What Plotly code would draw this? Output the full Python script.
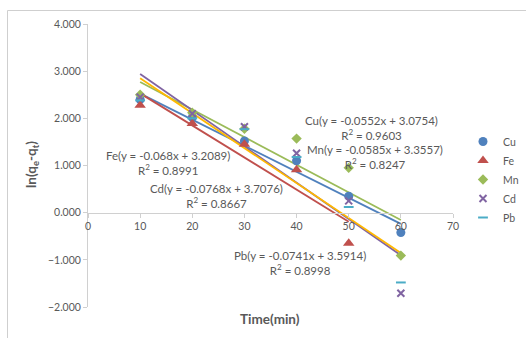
import plotly.graph_objects as go

# ---- data ----
time = [10, 20, 30, 40, 50, 60]
cu = [2.40, 2.02, 1.52, 1.10, 0.35, -0.42]
fe = [2.28, 1.89, 1.45, 0.91, -0.65]          # no point at 60
mn = [2.50, 2.12, 1.78, 1.57, 0.95, -0.91]
cd = [2.45, 2.10, 1.82, 1.26, 0.25, -1.71]
pb = [2.38, 2.00, 1.77, 1.18, 0.12, -1.48]

series_names = ["Cu", "Fe", "Mn", "Cd", "Pb"]
slopes = [-0.0552, -0.068, -0.0585, -0.0768, -0.0741]
intercepts = [3.0754, 3.2089, 3.3557, 3.7076, 3.5914]
r2 = ["0.9603", "0.8991", "0.8247", "0.8667", "0.8998"]
slope_txt = ["-0.0552", "-0.068", "-0.0585", "-0.0768", "-0.0741"]
icpt_txt = ["3.0754", "3.2089", "3.3557", "3.7076", "3.5914"]

x_ticks = [0, 10, 20, 30, 40, 50, 60, 70]
y_ticks = [-2, -1, 0, 1, 2, 3, 4]

# ---- styles ----
marker_colors = ["#4F81BD", "#C0504D", "#9BBB59", "#8064A2", "#4BACC6"]
line_colors = ["#4F81BD", "#C0504D", "#9BBB59", "#8064A2", "#FFB800"]
symbols = ["circle", "triangle-up", "diamond", "x-thin-open", "line-ew-open"]
sizes = [9, 10, 8, 7, 7]
# label positions (data coords) for trendline equations
label_pos = [(54.3, 1.80), (15.3, 1.06), (55.0, 1.18), (24.7, 0.35), (40.7, -1.06)]

ys = [cu, fe, mn, cd, pb]
gray = "#595959"
axis_gray = "#D0D0D0"
font_family = "Lato, Open Sans, Arial, sans-serif"

# plot area in page pixels
W, H = 526, 338
PL, PR, PT, PB_ = 88, 453, 24, 307
PW, PH = PR - PL, PB_ - PT

def px_x(px):
    return (px - PL) / PW

def px_y(py):
    return (PB_ - py) / PH

fig = go.Figure()

# trendlines
for i, name in enumerate(series_names):
    xs = time[:len(ys[i])]
    x_fit = [min(xs), max(xs)]
    y_fit = [slopes[i] * x + intercepts[i] for x in x_fit]
    fig.add_trace(go.Scatter(
        x=x_fit, y=y_fit, mode="lines",
        line=dict(color=line_colors[i], width=1.8),
        showlegend=False, hoverinfo="skip"))

# markers
for i, name in enumerate(series_names):
    xs = time[:len(ys[i])]
    mk = dict(color=marker_colors[i], size=sizes[i], symbol=symbols[i])
    if symbols[i].endswith("open"):
        mk["line"] = dict(color=marker_colors[i], width=2)
    fig.add_trace(go.Scatter(
        x=xs, y=ys[i], mode="markers", name=name, marker=mk))

annotations = []
for i, name in enumerate(series_names):
    ax, ay = label_pos[i]
    annotations.append(dict(
        x=ax, y=ay, xref="x", yref="y", showarrow=False,
        xanchor="center", yanchor="middle",
        text=f"{name}(y = {slope_txt[i]}x + {icpt_txt[i]})<br>R<sup>2</sup> = {r2[i]}",
        align="center", font=dict(size=11.5, color=gray, family=font_family)))

annotations.append(dict(
    x=px_x(270), y=px_y(319), xref="paper", yref="paper",
    xanchor="center", yanchor="middle",
    showarrow=False, text="<b>Time(min)</b>",
    font=dict(size=13.5, color=gray, family=font_family)))
annotations.append(dict(
    x=px_x(32), y=px_y(165), xref="paper", yref="paper",
    xanchor="center", yanchor="middle",
    showarrow=False, textangle=-90, text="<b>ln(q<sub>e</sub>-q<sub>t</sub>)</b>",
    font=dict(size=13.5, color=gray, family=font_family)))

border = dict(color="#CFCFCF", width=1)
fig.update_layout(
    width=W, height=H,
    margin=dict(l=PL, r=W - PR, t=PT, b=H - PB_, autoexpand=False),
    paper_bgcolor="white", plot_bgcolor="white",
    font=dict(family=font_family, color=gray, size=10.5),
    xaxis=dict(range=[0, 70], tickvals=x_ticks, showgrid=False, zeroline=False,
               showline=True, linecolor=axis_gray, linewidth=1,
               ticks="outside", ticklen=4, tickcolor=axis_gray,
               anchor="free", position=1/3,
               tickfont=dict(size=10.5, color=gray)),
    yaxis=dict(range=[-2, 4], tickvals=y_ticks, tickformat=".3f",
               showgrid=False, zeroline=False,
               showline=True, linecolor=axis_gray, linewidth=1,
               ticks="outside", ticklen=4, tickcolor=axis_gray,
               tickfont=dict(size=10.5, color=gray)),
    legend=dict(x=px_x(463), y=px_y(127), xanchor="left", yanchor="top",
                font=dict(size=10.5, color=gray), bgcolor="rgba(0,0,0,0)",
                tracegroupgap=0),
    annotations=annotations,
    shapes=[
        dict(type="line", xref="paper", yref="paper",
             x0=px_x(7.5), x1=px_x(7.5), y0=px_y(338), y1=px_y(10.5),
             line=border, layer="above"),
        dict(type="line", xref="paper", yref="paper",
             x0=px_x(7.5), x1=px_x(526), y0=px_y(10.5), y1=px_y(10.5),
             line=border, layer="above"),
    ],
)

# remove the default 8px page margin so the figure sits at the window origin
fig.write_html(
    "out.html",
    config={"displayModeBar": False},
    post_script="document.body.style.margin='0';document.body.style.overflow='hidden';",
)
